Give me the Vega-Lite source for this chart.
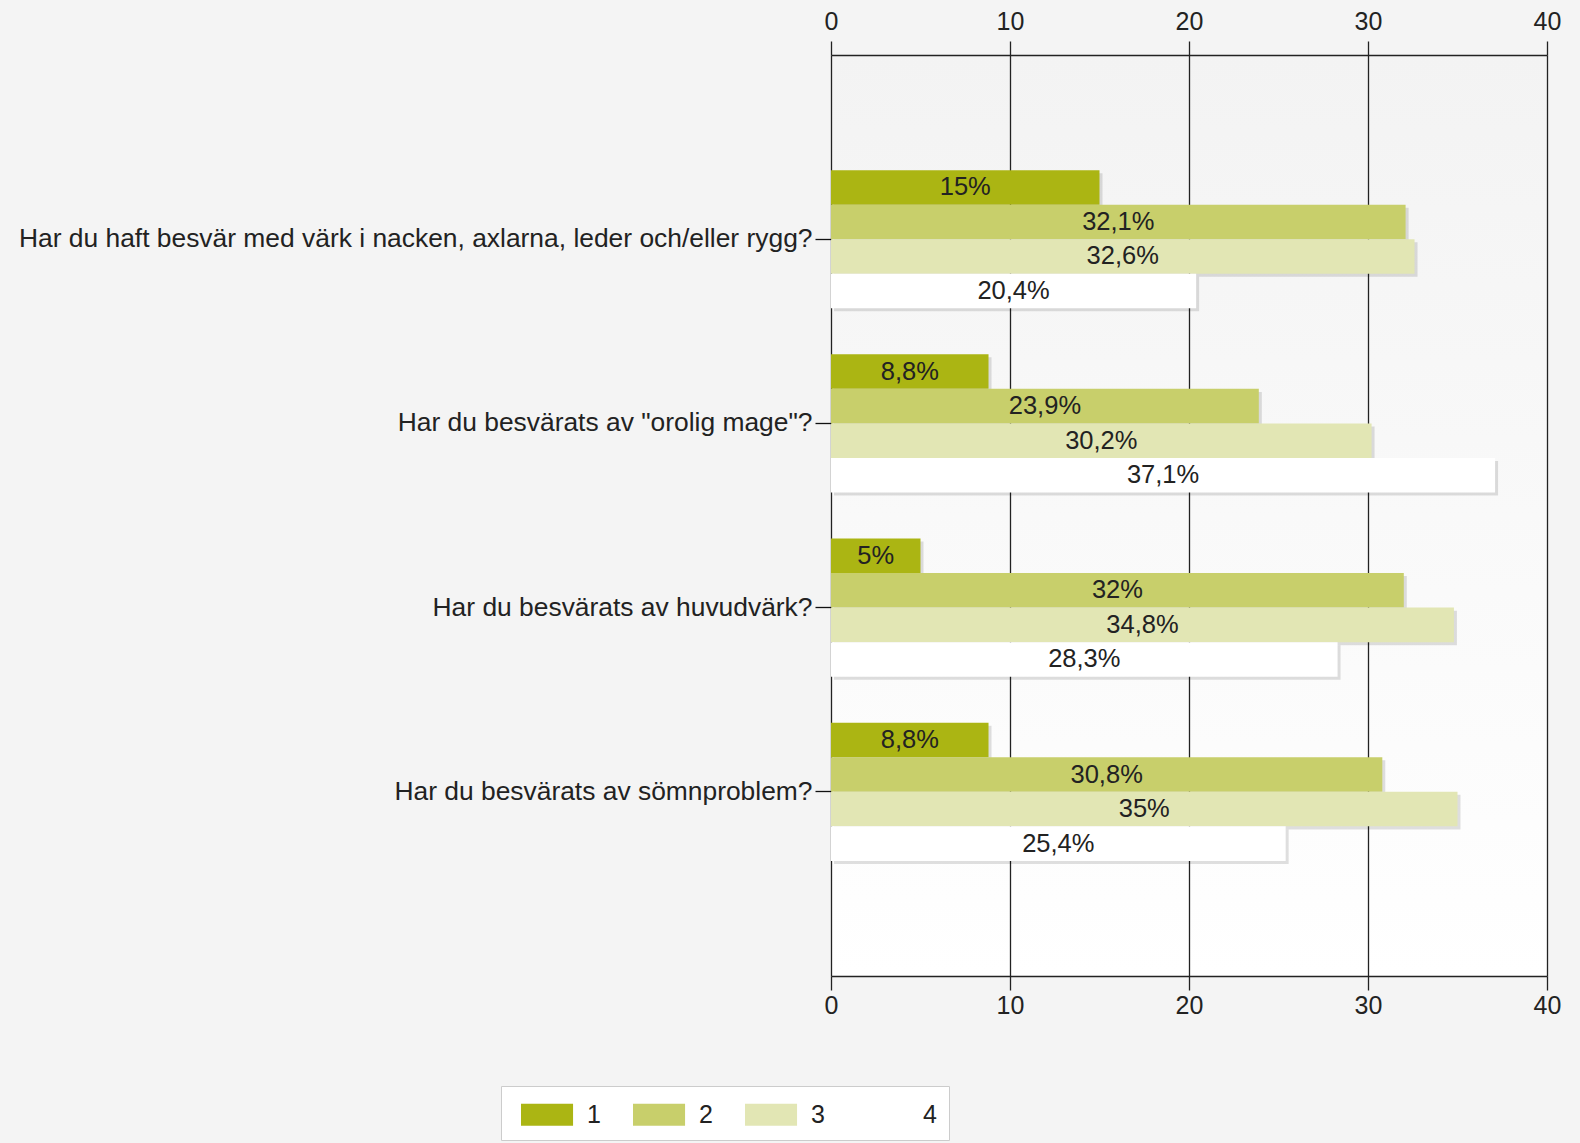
{
  "$schema": "https://vega.github.io/schema/vega-lite/v6.json",
  "width": 716,
  "height": 921,
  "autosize": "none",
  "padding": {"left": 831, "top": 55, "right": 33, "bottom": 167},
  "background": "#f4f4f4",
  "config": {
    "font": "Liberation Sans",
    "view": {
      "stroke": null,
      "fill": {"gradient": "linear", "x1": 0, "y1": 0, "x2": 0, "y2": 1, "stops": [{"offset": 0, "color": "#f3f3f3"}, {"offset": 1, "color": "#ffffff"}]}
    },
    "axis": {"labelFont": "Liberation Sans", "labelFontSize": 25, "labelColor": "#222222"},
    "legend": {"labelFont": "Liberation Sans"}
  },
  "data": {
    "values": [
      {"q": "Har du haft besvär med värk i nacken, axlarna, leder och/eller rygg?", "s": "1", "v": 15, "label": "15%"},
      {"q": "Har du haft besvär med värk i nacken, axlarna, leder och/eller rygg?", "s": "2", "v": 32.1, "label": "32,1%"},
      {"q": "Har du haft besvär med värk i nacken, axlarna, leder och/eller rygg?", "s": "3", "v": 32.6, "label": "32,6%"},
      {"q": "Har du haft besvär med värk i nacken, axlarna, leder och/eller rygg?", "s": "4", "v": 20.4, "label": "20,4%"},
      {"q": "Har du besvärats av \"orolig mage\"?", "s": "1", "v": 8.8, "label": "8,8%"},
      {"q": "Har du besvärats av \"orolig mage\"?", "s": "2", "v": 23.9, "label": "23,9%"},
      {"q": "Har du besvärats av \"orolig mage\"?", "s": "3", "v": 30.2, "label": "30,2%"},
      {"q": "Har du besvärats av \"orolig mage\"?", "s": "4", "v": 37.1, "label": "37,1%"},
      {"q": "Har du besvärats av huvudvärk?", "s": "1", "v": 5, "label": "5%"},
      {"q": "Har du besvärats av huvudvärk?", "s": "2", "v": 32, "label": "32%"},
      {"q": "Har du besvärats av huvudvärk?", "s": "3", "v": 34.8, "label": "34,8%"},
      {"q": "Har du besvärats av huvudvärk?", "s": "4", "v": 28.3, "label": "28,3%"},
      {"q": "Har du besvärats av sömnproblem?", "s": "1", "v": 8.8, "label": "8,8%"},
      {"q": "Har du besvärats av sömnproblem?", "s": "2", "v": 30.8, "label": "30,8%"},
      {"q": "Har du besvärats av sömnproblem?", "s": "3", "v": 35, "label": "35%"},
      {"q": "Har du besvärats av sömnproblem?", "s": "4", "v": 25.4, "label": "25,4%"}
    ]
  },
  "encoding": {
    "y": {
      "field": "q", "type": "nominal", "sort": null,
      "scale": {"paddingInner": 0.25, "paddingOuter": 0.625},
      "axis": {"title": null, "domain": false, "tickColor": "#111111", "tickSize": 16, "tickWidth": 1.3, "labelPadding": 3, "labelLimit": 0, "labelFontSize": 26.4}
    }
  },
  "layer": [
    {
      "mark": {"type": "bar", "color": "#000000", "opacity": 0.12, "xOffset": 3},
      "encoding": {
        "yOffset": {"field": "s", "type": "nominal", "scale": {"paddingInner": 0, "paddingOuter": 0, "range": [3, 141.2]}},
        "x": {
          "field": "v", "type": "quantitative", "scale": {"domain": [0, 40]},
          "axis": {"orient": "bottom", "title": null, "values": [0, 10, 20, 30, 40], "labelFlush": false, "grid": true, "gridColor": "#222222", "gridWidth": 1.3, "gridOpacity": 1, "domainColor": "#222222", "domainWidth": 1.5, "tickColor": "#222222", "tickSize": 14, "tickWidth": 1.3, "labelPadding": 3}
        }
      }
    },
    {
      "mark": {"type": "bar"},
      "encoding": {
        "yOffset": {"field": "s", "type": "nominal", "scale": {"paddingInner": 0, "paddingOuter": 0}},
        "x": {
          "field": "v", "type": "quantitative", "scale": {"domain": [0, 40]},
          "axis": {"orient": "top", "title": null, "values": [0, 10, 20, 30, 40], "labelFlush": false, "grid": false, "domainColor": "#222222", "domainWidth": 1.5, "tickColor": "#222222", "tickSize": 14, "tickWidth": 1.3, "labelPadding": 7}
        },
        "color": {
          "field": "s", "type": "nominal",
          "scale": {"domain": ["1", "2", "3", "4"], "range": ["#abb513", "#c8cf6b", "#e2e6b4", "#ffffff"]},
          "legend": {
            "title": null, "orient": "none", "legendX": -330, "legendY": 1031, "direction": "horizontal",
            "fillColor": "#ffffff", "strokeColor": "#cccccc", "padding": 12,
            "symbolType": "M-0.515,-0.667H2.64V0.667H-0.515Z", "symbolSize": 1089, "symbolStrokeWidth": 0, "symbolOpacity": 1,
            "labelFontSize": 25, "labelColor": "#222222", "labelOffset": 41, "columnPadding": 24
          }
        }
      }
    },
    {
      "transform": [{"calculate": "datum.v / 2", "as": "mid"}],
      "mark": {"type": "text", "fontSize": 25.5, "color": "#222222", "align": "center", "baseline": "middle"},
      "encoding": {
        "yOffset": {"field": "s", "type": "nominal", "scale": {"type": "band", "paddingInner": 0, "paddingOuter": 0}},
        "x": {"field": "mid", "type": "quantitative", "scale": {"domain": [0, 40]}, "axis": null},
        "text": {"field": "label"}
      }
    }
  ],
  "resolve": {"axis": {"x": "independent"}, "scale": {"yOffset": "independent"}}
}
